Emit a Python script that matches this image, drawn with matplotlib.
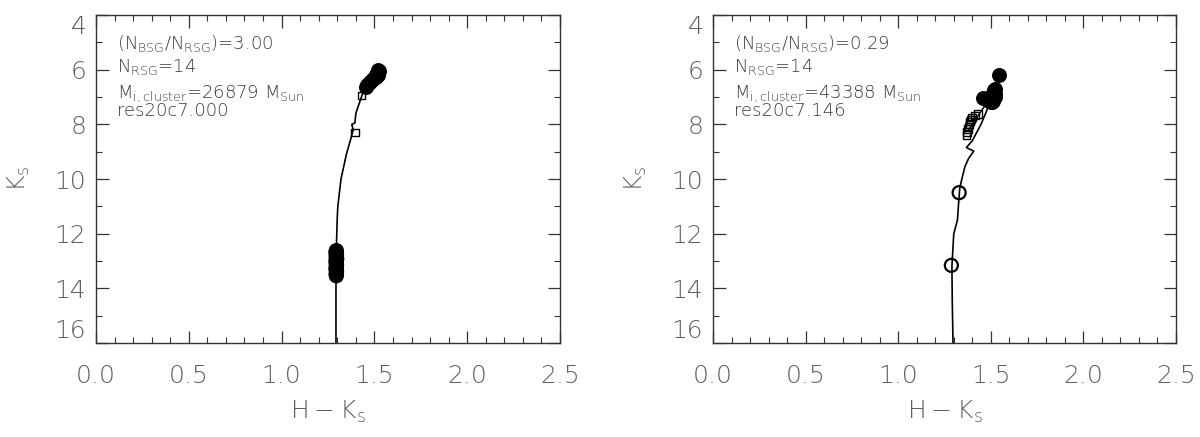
import matplotlib.pyplot as plt

plt.rcParams['font.family'] = ['DejaVu Sans']
plt.rcParams['font.weight'] = 'light'
plt.rcParams['mathtext.fontset'] = 'custom'
plt.rcParams['mathtext.rm'] = 'DejaVu Sans:light'
plt.rcParams['mathtext.it'] = 'DejaVu Sans:italic:light'

# ---- left panel: res20c7.000 ----
track1_hk = [1.293, 1.293, 1.295, 1.30, 1.303, 1.32, 1.35, 1.37, 1.386, 1.378, 1.395,
             1.40, 1.43, 1.45, 1.49, 1.525]
track1_k = [16.0, 14.0, 12.5, 11.4, 11.0, 10.0, 9.07, 8.6, 8.2, 8.0, 7.95,
            7.6, 7.0, 6.6, 6.25, 6.0]
rsg1_hk = [1.455, 1.462, 1.47, 1.478, 1.487, 1.495, 1.503, 1.51, 1.515, 1.52, 1.522, 1.525, 1.518, 1.51]
rsg1_k = [6.62, 6.55, 6.5, 6.44, 6.38, 6.33, 6.27, 6.2, 6.12, 6.06, 6.0, 6.04, 6.18, 6.25]
bsg1_hk = [1.295, 1.293, 1.296, 1.294, 1.295, 1.297, 1.293, 1.295, 1.294, 1.296, 1.295,
           1.293, 1.295, 1.296, 1.294, 1.295]
bsg1_k = [12.62, 12.68, 12.74, 12.8, 12.86, 12.92, 12.98, 13.04, 13.1, 13.16, 13.22,
          13.28, 13.34, 13.4, 13.47, 13.54]
ysg1_hk = [1.43, 1.395]
ysg1_k = [6.95, 8.3]

# ---- right panel: res20c7.146 ----
track2_hk = [1.296, 1.292, 1.29, 1.30, 1.32, 1.327, 1.333, 1.36, 1.38, 1.408, 1.368, 1.40,
             1.447, 1.472, 1.489, 1.505, 1.51]
track2_k = [16.0, 14.5, 13.2, 12.0, 11.5, 10.8, 10.3, 9.55, 9.25, 8.98, 8.85, 8.6,
            8.0, 7.6, 7.3, 7.0, 6.8]
branch2_hk = [1.38, 1.42, 1.46, 1.49]
branch2_k = [8.2, 7.8, 7.4, 7.1]
rsg2_hk = [1.545, 1.458, 1.478, 1.49, 1.50, 1.51, 1.52, 1.52, 1.515, 1.505, 1.512, 1.525]
rsg2_k = [6.2, 7.05, 7.1, 7.05, 7.2, 7.15, 7.0, 6.9, 6.75, 7.2, 6.85, 6.72]
bsg2_hk = [1.329, 1.287]
bsg2_k = [10.5, 13.16]
ysg2_hk = [1.368, 1.372, 1.376, 1.38, 1.384, 1.388, 1.392, 1.40, 1.415, 1.43]
ysg2_k = [8.38, 8.28, 8.18, 8.08, 7.98, 7.9, 7.82, 7.75, 7.68, 7.62]

labels1 = [r'$(\mathrm{N_{BSG}/N_{RSG}})$=3.00', r'$\mathrm{N_{RSG}}$=14',
           r'$\mathrm{M_{i,cluster}}$=26879 $\mathrm{M_{Sun}}$', 'res20c7.000']
labels2 = [r'$(\mathrm{N_{BSG}/N_{RSG}})$=0.29', r'$\mathrm{N_{RSG}}$=14',
           r'$\mathrm{M_{i,cluster}}$=43388 $\mathrm{M_{Sun}}$', 'res20c7.146']
label_k = [5.04, 5.9, 6.87, 7.5]

xticks = [0.0, 0.5, 1.0, 1.5, 2.0, 2.5]
xminor = [i / 10 for i in range(26)]
yticks = [4, 6, 8, 10, 12, 14, 16]
yminor = list(range(4, 17))

txt_color = '#606060'

fig = plt.figure(figsize=(12, 4.37), dpi=100)
ax1 = fig.add_axes([96 / 1200, 1 - 343 / 437, 464 / 1200, 328 / 437])
ax2 = fig.add_axes([713 / 1200, 1 - 343 / 437, 463 / 1200, 328 / 437])

panels = [
    (ax1, track1_hk, track1_k, None, None, rsg1_hk, rsg1_k, bsg1_hk, bsg1_k, ysg1_hk, ysg1_k, labels1),
    (ax2, track2_hk, track2_k, branch2_hk, branch2_k, rsg2_hk, rsg2_k, bsg2_hk, bsg2_k, ysg2_hk, ysg2_k, labels2),
]

for ax, thk, tk, bhk, bk, rhk, rk, bshk, bsk, yhk, yk, labels in panels:
    ax.plot(thk, tk, color='k', lw=1.2, zorder=2)
    if bhk is not None:
        ax.plot(bhk, bk, color='k', lw=1.0, zorder=2)
    ax.scatter(bshk, bsk, s=88, facecolors='none', edgecolors='k', linewidths=1.6, zorder=3)
    ax.scatter(yhk, yk, s=30, marker='s', facecolors='none', edgecolors='k', linewidths=1.0, zorder=3)
    ax.scatter(rhk, rk, s=95, color='k', zorder=4)

    ax.set_xlim(0, 2.5)
    ax.set_ylim(16, 4)
    ax.set_xticks(xticks)
    ax.set_xticks(xminor, minor=True)
    ax.set_yticks(yticks)
    ax.set_yticks(yminor, minor=True)
    ax.set_xticklabels(['%.1f' % v for v in xticks])
    ax.set_yticklabels([str(v) for v in yticks])
    ax.tick_params(which='both', direction='in', top=True, right=True, colors='#333333',
                   labelcolor=txt_color)
    ax.tick_params(which='major', length=9, width=0.9)
    ax.tick_params(which='minor', length=4.5, width=0.8)
    ax.tick_params(axis='x', pad=15, labelsize=18)
    ax.tick_params(axis='y', pad=7, labelsize=18)
    ylabs = ax.get_yticklabels()
    ylabs[0].set_va('top')
    ylabs[-1].set_va('bottom')
    for sp in ax.spines.values():
        sp.set_color('#333333')
        sp.set_linewidth(1.0)
    ax.set_xlabel(r'$\mathrm{H-K_s}$', fontsize=18, color=txt_color, labelpad=8)
    ax.set_ylabel(r'$\mathrm{K_s}$', fontsize=18, color=txt_color, labelpad=16)

    for lab, yy in zip(labels, label_k):
        ax.text(0.114, yy, lab, fontsize=13, color='#3a3a3a', va='center', ha='left')

fig.savefig('out.png', dpi=100)
